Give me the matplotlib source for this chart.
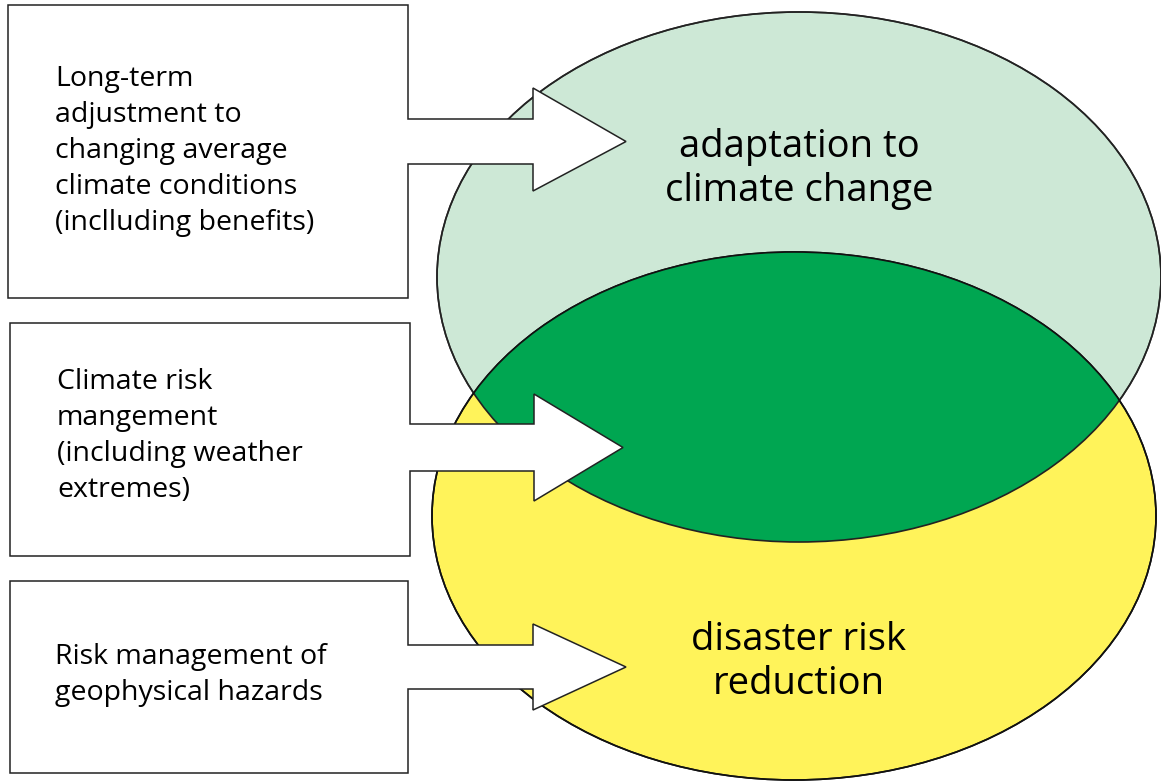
import matplotlib
matplotlib.use("Agg")
import matplotlib.pyplot as plt
from matplotlib.patches import Ellipse, Polygon

# ---- content ----
box_texts = [
    "Long-term\nadjustment to\nchanging average\nclimate conditions\n(inclluding benefits)",
    "Climate risk\nmangement\n(including weather\nextremes)",
    "Risk management of\ngeophysical hazards",
]
circle_labels = ["adaptation to\nclimate change", "disaster risk\nreduction"]

# ---- geometry (pixels, y downward) ----
W, H = 1161, 782
boxes = [  # left, top, right, bottom, shaft_top, shaft_bot, head_x, head_top, head_bot, tip_x
    (8, 5, 408, 298, 119, 164, 533, 88, 191, 626),
    (10, 323, 410, 556, 424, 471, 534, 394, 501, 623),
    (10, 581, 408, 773, 645, 689, 533, 624, 710, 626),
]
text_pos = [(55, 151), (57, 436), (55, 675)]
label_pos = [(799, 169), (799, 662)]

c_light = "#cde8d6"
c_dark = "#00a651"
c_yellow = "#fff35a"

fig = plt.figure(figsize=(W / 100, H / 100), dpi=100)
ax = fig.add_axes([0, 0, 1, 1])
ax.set_xlim(0, W)
ax.set_ylim(H, 0)
ax.axis("off")

top = dict(xy=(799, 277), width=724, height=530)
bot = dict(xy=(794, 516), width=724, height=528)

e_top = Ellipse(**top, facecolor=c_light, edgecolor="#3a3a3a", lw=1.2, zorder=1)
ax.add_patch(e_top)
e_bot = Ellipse(**bot, facecolor=c_yellow, edgecolor="#111111", lw=1.2, zorder=2)
ax.add_patch(e_bot)
# overlap
clip = Ellipse(**top, facecolor="none", edgecolor="none", transform=ax.transData)
ax.add_patch(clip)
ov = Ellipse(**bot, facecolor=c_dark, edgecolor="none", zorder=3)
ax.add_patch(ov)
ov.set_clip_path(clip)
# outlines on top
ax.add_patch(Ellipse(**top, facecolor="none", edgecolor="#222222", lw=1.2, zorder=4))
ax.add_patch(Ellipse(**bot, facecolor="none", edgecolor="#111111", lw=1.2, zorder=4))

for (l, t, r, b, st, sb, hx, ht, hb, tx) in boxes:
    ty = (st + sb) / 2
    pts = [(l, t), (r, t), (r, st), (hx, st), (hx, ht), (tx, ty), (hx, hb),
           (hx, sb), (r, sb), (r, b), (l, b)]
    ax.add_patch(Polygon(pts, closed=True, facecolor="white", edgecolor="#222222",
                         lw=1.1, joinstyle="miter", zorder=5))

for txt, (x, y) in zip(box_texts, text_pos):
    ax.text(x, y, txt, ha="left", va="center", fontsize=20.5, family="Open Sans",
            linespacing=1.37, color="black", zorder=6)

for txt, (x, y) in zip(circle_labels, label_pos):
    ax.text(x, y, txt, ha="center", va="center", fontsize=27.5, family="Open Sans",
            linespacing=1.22, color="black", zorder=6)

fig.savefig("out.png", dpi=100)
